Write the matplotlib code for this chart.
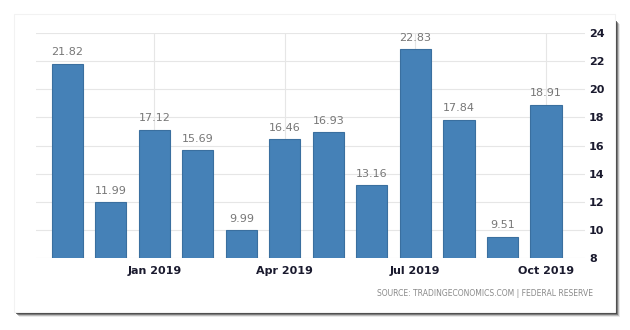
import numpy as np
import matplotlib
matplotlib.use('Agg')
import matplotlib.pyplot as plt
from matplotlib.patches import Rectangle

months = ['Nov 2018', 'Dec 2018', 'Jan 2019', 'Feb 2019', 'Mar 2019', 'Apr 2019',
          'May 2019', 'Jun 2019', 'Jul 2019', 'Aug 2019', 'Sep 2019', 'Oct 2019']
values = [21.82, 11.99, 17.12, 15.69, 9.99, 16.46, 16.93, 13.16, 22.83, 17.84, 9.51, 18.91]
tick_months = ['Jan 2019', 'Apr 2019', 'Jul 2019', 'Oct 2019']
yticks = [8, 10, 12, 14, 16, 18, 20, 22, 24]
source = 'SOURCE: TRADINGECONOMICS.COM | FEDERAL RESERVE'

W, H = 630, 330
fig = plt.figure(figsize=(6.3, 3.3), dpi=100)
fig.patch.set_facecolor('white')

def px(x0, y0, x1, y1):
    # pixel box (top-left origin) -> figure fraction rect
    return (x0 / W, 1 - y1 / H, (x1 - x0) / W, (y1 - y0) / H)

# card shadow (right and bottom), soft
for i, a in enumerate([0.9, 0.7, 0.45, 0.25, 0.1]):
    x0, y0, w, h = px(15 + i, 20 + i, 616 + i, 313 + i)
    fig.patches.append(Rectangle((x0, y0), w, h, transform=fig.transFigure,
                                 facecolor='#303030', edgecolor='none', alpha=a, zorder=0))
x0, y0, w, h = px(14, 14, 615, 312)
fig.patches.append(Rectangle((x0, y0), w, h, transform=fig.transFigure,
                             facecolor='white', edgecolor='#f2f2f2', lw=0.8, zorder=1))

ax = fig.add_axes(px(36, 33, 585, 258))
ax.set_zorder(2)
ax.patch.set_alpha(0)

x = np.arange(len(months))
ax.bar(x, values, width=0.72, bottom=0, color='#4581b7', edgecolor='#3a6f9f', lw=0.8, zorder=3)
for xi, v in zip(x, values):
    ax.text(xi, v + 0.45, '%.2f' % v, ha='center', va='bottom', fontsize=8,
            color='#777777', zorder=4)

ax.set_xlim(-0.72, 11.9)
ax.set_ylim(8, 24)
ax.set_yticks(yticks)
ax.yaxis.tick_right()
ax.tick_params(axis='y', length=0, pad=3, labelsize=8, labelcolor='#1a1a2e')
ax.set_xticks([months.index(m) for m in tick_months])
ax.set_xticklabels(tick_months)
ax.tick_params(axis='x', length=0, pad=6, labelsize=8, labelcolor='#1a1a2e')
for lab in ax.get_xticklabels() + ax.get_yticklabels():
    lab.set_fontweight('semibold')

ax.grid(True, color='#e6e6e6', lw=0.8, zorder=0)
for s in ax.spines.values():
    s.set_visible(False)

fig.text(593 / W, 1 - 293 / H, source, ha='right', va='center', fontsize=5.5,
         color='#8a8a8a', zorder=5)

fig.savefig('out.png', dpi=100)
